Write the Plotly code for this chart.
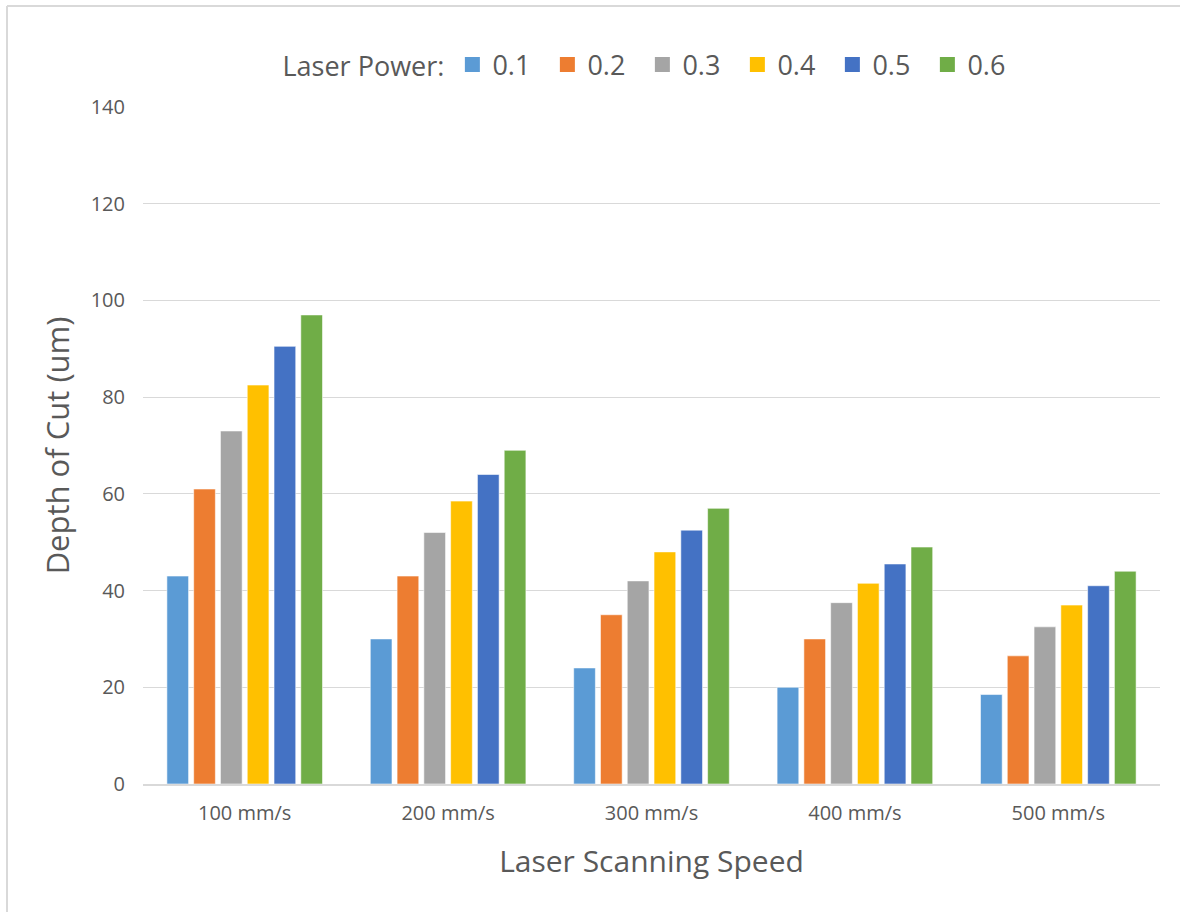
import plotly.graph_objects as go

# Depth of cut (um) for each laser power setting, grouped by scanning speed
speeds = ["100 mm/s", "200 mm/s", "300 mm/s", "400 mm/s", "500 mm/s"]
power_levels = ["0.1", "0.2", "0.3", "0.4", "0.5", "0.6"]

depth_p01 = [43, 30, 24, 20, 18.5]
depth_p02 = [61, 43, 35, 30, 26.5]
depth_p03 = [73, 52, 42, 37.5, 32.5]
depth_p04 = [82.5, 58.5, 48, 41.5, 37]
depth_p05 = [90.5, 64, 52.5, 45.5, 41]
depth_p06 = [97, 69, 57, 49, 44]

series = [depth_p01, depth_p02, depth_p03, depth_p04, depth_p05, depth_p06]
colors = ["#5B9BD5", "#ED7D31", "#A5A5A5", "#FFC000", "#4472C4", "#70AD47"]

y_ticks = [0, 20, 40, 60, 80, 100, 120, 140]

FONT = "Open Sans"
TEXT = "#595959"
GRID = "#D9D9D9"

fig = go.Figure()
for name, vals, col in zip(power_levels, series, colors):
    fig.add_trace(go.Bar(
        x=speeds, y=vals, name=name, legendgroup=name, showlegend=False,
        marker=dict(color=col, line=dict(color="rgba(255,255,255,0.55)", width=1)),
    ))
# square swatches for the legend
for name, col in zip(power_levels, colors):
    fig.add_trace(go.Scatter(
        x=[None], y=[None], mode="markers", name=name, legendgroup=name,
        marker=dict(symbol="square", size=15, color=col),
        hoverinfo="skip",
    ))

W, H = 1180, 912
ML, MR, MT, MB = 143, 20, 107, 128
pw = W - ML - MR
ph = H - MT - MB

fig.update_layout(
    width=W, height=H,
    margin=dict(l=ML, r=MR, t=MT, b=MB, pad=0),
    paper_bgcolor="white", plot_bgcolor="white",
    barmode="group", bargap=0.21, bargroupgap=0.19,
    font=dict(family=FONT, color=TEXT),
    legend=dict(
        orientation="h", x=0.5, xanchor="center",
        y=1 + 42 / ph, yanchor="middle",
        title=dict(text="Laser Power:", side="left", font=dict(size=27, color=TEXT)),
        font=dict(size=27, color=TEXT),
        itemwidth=30, entrywidth=50, traceorder="normal",
    ),
    xaxis=dict(
        showgrid=False, showline=True, linecolor=GRID, linewidth=1.5,
        tickfont=dict(size=20, color=TEXT), ticks="", ticklabelstandoff=10,
        title=dict(text="Laser Scanning Speed", font=dict(size=30, color=TEXT), standoff=26),
    ),
    yaxis=dict(
        range=[0, 140], tickvals=y_ticks, showgrid=True, gridcolor=GRID, gridwidth=1,
        zeroline=False, showline=False, ticks="",
        tickfont=dict(size=20, color=TEXT), ticklabelstandoff=17,
        title=dict(text="Depth of Cut (um)", font=dict(size=31, color=TEXT), standoff=11),
    ),
    shapes=[
        dict(type="line", xref="paper", yref="paper",
             x0=(7 - ML) / pw, x1=(W + 10 - ML) / pw,
             y0=1 + (MT - 6) / ph, y1=1 + (MT - 6) / ph,
             line=dict(color=GRID, width=2)),
        dict(type="line", xref="paper", yref="paper",
             x0=(7 - ML) / pw, x1=(7 - ML) / pw,
             y0=1 + (MT - 6) / ph, y1=-(MB + 10) / ph,
             line=dict(color=GRID, width=2)),
    ],
)

fig.write_html("out.html")
